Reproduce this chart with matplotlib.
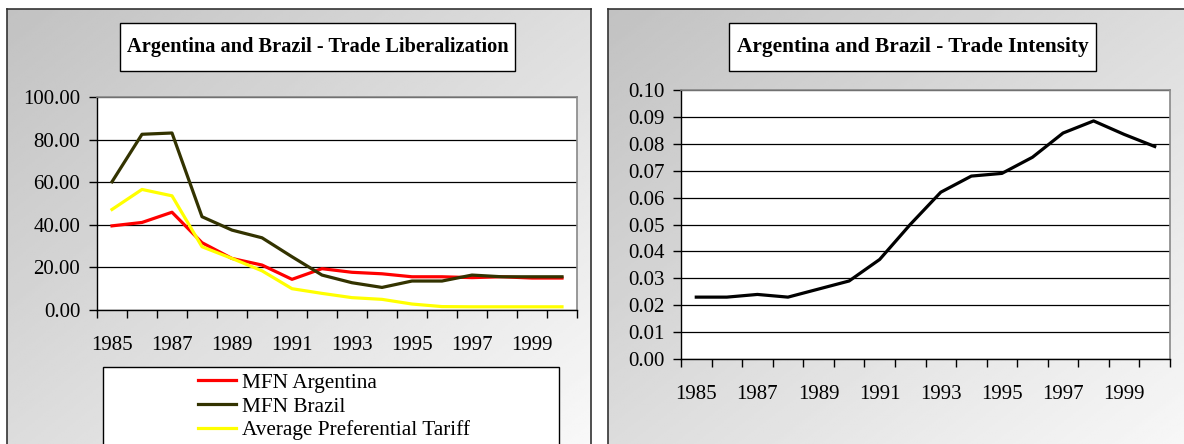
"""Argentina and Brazil: trade liberalization and trade intensity, 1985-2000."""
import numpy as np
import matplotlib
matplotlib.use("Agg")
import matplotlib.pyplot as plt  # noqa: E402
from matplotlib.patches import Rectangle  # noqa: E402

years = list(range(1985, 2001))
mfn_argentina = [39.5, 41.1, 45.9, 31.6, 24.2, 21.1, 14.4, 19.4, 17.7, 17.0,
                 15.6, 15.6, 15.2, 15.6, 15.0, 15.0]
mfn_brazil = [60.2, 82.5, 83.1, 43.8, 37.5, 33.9, 25.0, 16.4, 12.8, 10.6,
              13.6, 13.6, 16.4, 15.6, 15.6, 15.6]
avg_pref_tariff = [47.2, 56.6, 53.6, 29.7, 24.2, 18.4, 10.0, 7.8, 5.8, 5.0,
                   2.8, 1.6, 1.5, 1.5, 1.5, 1.5]
trade_intensity = [0.023, 0.023, 0.024, 0.023, 0.026, 0.029, 0.037, 0.050,
                   0.062, 0.068, 0.069, 0.075, 0.084, 0.0885, 0.0835, 0.079]

W, H = 1184, 444
plt.rcParams["font.family"] = ["Liberation Serif", "DejaVu Serif"]


def box(x0, y0, x1, y1):
    # pixel rectangle (top-left origin) -> figure fraction
    return [x0 / W, 1 - y1 / H, (x1 - x0) / W, (y1 - y0) / H]


def panel(fig, x0, y0, x1, y1):
    bg = fig.add_axes(box(x0, y0, x1, y1), zorder=-10)
    gx, gy = np.meshgrid(np.linspace(0, 1, 200), np.linspace(0, 1, 200))
    grad = 0.76 + 0.22 * (gx + gy) / 2
    bg.imshow(grad, cmap="gray", vmin=0, vmax=1, aspect="auto",
              extent=(0, 1, 1, 0))
    bg.set_xlim(0, 1)
    bg.set_ylim(1, 0)
    bg.set_xticks([])
    bg.set_yticks([])
    for s in bg.spines.values():
        s.set_color("#333333")
        s.set_linewidth(1.2)


def white_box(fig, x0, y0, x1, y1):
    fig.patches.append(Rectangle((x0 / W, 1 - y1 / H), (x1 - x0) / W,
                                 (y1 - y0) / H, transform=fig.transFigure,
                                 facecolor="white", edgecolor="black",
                                 linewidth=1.0, zorder=-5))


def title_box(fig, x0, y0, x1, y1, text, size):
    white_box(fig, x0, y0, x1, y1)
    fig.text((x0 + x1) / 2 / W, 1 - (y0 + y1) / 2 / H, text, ha="center",
             va="center", fontsize=size, fontweight="bold", zorder=2)


def style_axes(ax):
    ax.set_facecolor("white")
    n = len(years)
    ax.set_xlim(-0.5, n - 0.5)
    ax.set_xticks(range(0, n - 1, 2))
    ax.set_xticklabels([str(y) for y in years[0:n - 1:2]])
    ax.set_xticks(np.arange(-0.5, n, 1.0), minor=True)
    ax.tick_params(axis="x", which="major", length=0, pad=19, labelsize=15)
    ax.tick_params(axis="x", which="minor", length=6, direction="out",
                   width=1, color="black")
    ax.tick_params(axis="y", length=6, direction="out", width=1, pad=6,
                   labelsize=15)
    ax.grid(axis="y", color="black", linewidth=0.9)
    ax.set_axisbelow(True)
    for side in ("left", "bottom"):
        ax.spines[side].set_color("black")
        ax.spines[side].set_linewidth(1.0)
    for side in ("top", "right"):
        ax.spines[side].set_color("#888888")
        ax.spines[side].set_linewidth(1.2)


fig = plt.figure(figsize=(W / 100, H / 100), dpi=100)
fig.patch.set_facecolor("white")

panel(fig, 7, 9, 591, 470)
panel(fig, 608, 9, 1210, 470)
title_box(fig, 120, 23, 515, 71,
          "Argentina and Brazil - Trade Liberalization", 14.7)
title_box(fig, 729, 23, 1096, 71,
          "Argentina and Brazil - Trade Intensity", 15.4)

# left chart
ax1 = fig.add_axes(box(97, 97, 577, 310))
x = np.arange(len(years))
ax1.plot(x, mfn_argentina, color="#ff0000", lw=2.3, label="MFN Argentina")
ax1.plot(x, mfn_brazil, color="#333300", lw=2.3, label="MFN Brazil")
ax1.plot(x, avg_pref_tariff, color="#ffff00", lw=2.3,
         label="Average Preferential Tariff")
ax1.set_ylim(0, 100)
ax1.set_yticks(np.arange(0, 101, 20))
ax1.yaxis.set_major_formatter(matplotlib.ticker.FormatStrFormatter("%.2f"))
style_axes(ax1)

white_box(fig, 103, 367, 559, 470)
leg = ax1.legend(loc="upper left", bbox_to_anchor=(198 / W, 1 - 373 / H),
                 bbox_transform=fig.transFigure, frameon=False, fontsize=15.3,
                 borderpad=0, handlelength=1.8, handletextpad=0.25,
                 labelspacing=0.18, borderaxespad=0)

# right chart
ax2 = fig.add_axes(box(681, 90, 1170, 359))
ax2.plot(x, trade_intensity, color="black", lw=2.3)
ax2.set_ylim(0, 0.10)
ax2.set_yticks(np.linspace(0, 0.10, 11))
ax2.yaxis.set_major_formatter(matplotlib.ticker.FormatStrFormatter("%.2f"))
style_axes(ax2)

fig.savefig("out.png", dpi=100)
